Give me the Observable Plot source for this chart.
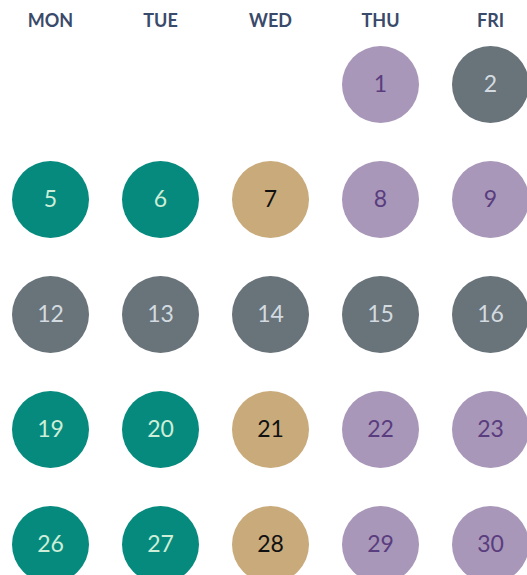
<!DOCTYPE html>
<html>
<head>
<meta charset="utf-8">
<script src="https://cdn.jsdelivr.net/npm/d3@7"></script>
<script src="https://cdn.jsdelivr.net/npm/@observablehq/plot@0.6"></script>
<style>
  html, body { margin: 0; padding: 0; background: #fff; }
  #chart svg { display: block; }
</style>
</head>
<body>
<div id="chart"></div>
<script>
// Day-of-week columns (month starts on a Thursday)
const days = ["MON", "TUE", "WED", "THU", "FRI"];
const firstDayOffset = 3; // day 1 falls on THU

// Working days of the month and their category
const dates = [1, 2, 5, 6, 7, 8, 9, 12, 13, 14, 15, 16, 19, 20, 21, 22, 23, 26, 27, 28, 29, 30];
const categories = ["D", "C", "A", "A", "B", "D", "D", "C", "C", "C", "C", "C", "A", "A", "B", "D", "D", "A", "A", "B", "D", "D"];

// Category palette: circle fill and label colour
const categoryKeys = ["A", "B", "C", "D"];
const circleColors = ["#068a7e", "#c9aa7b", "#68737a", "#a897b9"];
const labelColors = ["#cdeed8", "#111111", "#d3dbe0", "#5a3d7e"];

const circleFill = new Map(categoryKeys.map((k, i) => [k, circleColors[i]]));
const labelFill = new Map(categoryKeys.map((k, i) => [k, labelColors[i]]));

const data = dates.map((date, i) => {
  const idx = date - 1 + firstDayOffset;
  return {
    date,
    day: days[idx % 7],
    week: Math.floor(idx / 7),
    cat: categories[i]
  };
});

const chart = Plot.plot({
  width: 527,
  height: 575,
  marginTop: 83,
  marginBottom: 30,
  marginLeft: 48,
  marginRight: 36,
  style: { fontFamily: "Lato, 'Open Sans', sans-serif", background: "#fff" },
  x: { type: "point", domain: days, padding: 0, axis: null },
  y: { type: "point", domain: [0, 1, 2, 3, 4], padding: 0, axis: null },
  color: { type: "identity" },
  marks: [
    Plot.axisX({
      anchor: "top",
      tickSize: 0,
      tickPadding: 57,
      fontSize: 18,
      fontWeight: "bold",
      fill: "#3a4a6a",
      label: null
    }),
    Plot.dot(data, {
      x: "day",
      y: "week",
      r: 38.5,
      fill: d => circleFill.get(d.cat),
      stroke: null
    }),
    Plot.text(data, {
      x: "day",
      y: "week",
      text: d => String(d.date),
      fill: d => labelFill.get(d.cat),
      fontSize: 23
    })
  ]
});

document.getElementById("chart").appendChild(chart);
</script>
</body>
</html>
